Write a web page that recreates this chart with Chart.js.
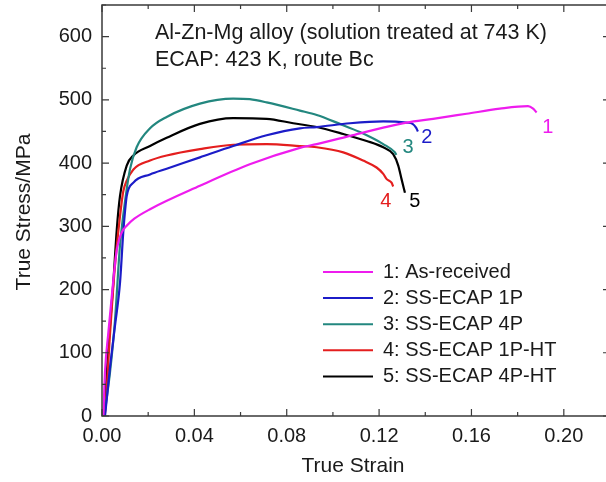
<!DOCTYPE html>
<html>
<head>
<meta charset="utf-8">
<script src="https://cdn.jsdelivr.net/npm/chart.js@4.4.1/dist/chart.umd.min.js"></script>
<style>
html,body{margin:0;padding:0;background:#fff;overflow:hidden;}
#wrap{position:absolute;left:0;top:0;width:612px;height:482px;}
</style>
</head>
<body>
<div id="wrap"><canvas id="c" width="612" height="482"></canvas></div>
<script>
// ---- data ----
const seriesLabels = ['1: As-received','2: SS-ECAP 1P','3: SS-ECAP 4P','4: SS-ECAP 1P-HT','5: SS-ECAP 4P-HT'];
const curveTags = ['1','2','3','4','5'];
const xTickValues = [0, 0.04, 0.08, 0.12, 0.16, 0.20];
const yTickValues = [0, 100, 200, 300, 400, 500, 600];

const strain1 = [0.0006,0.0013,0.0027,0.0049,0.0065,0.0085,0.0110,0.0140,0.0208,0.0424,0.0640,0.0857,0.0930,0.1074,0.1218,0.1319,0.1434,0.1579,0.1723,0.1845,0.1867,0.1882];
const stress1 = [0,70,130,215,265,290,302,312,327,364,398,424,430,443,456,464,470,478,486,490,486,480];

const strain2 = [0.0013,0.0035,0.0056,0.0078,0.0092,0.0100,0.0107,0.0136,0.0208,0.0280,0.0424,0.0568,0.0713,0.0857,0.0930,0.1074,0.1218,0.1319,0.1345,0.1360,0.1368];
const stress2 = [0,78,142,211,290,325,348,369,382,391,409,427,444,455,457,463,466,464,462,456,450];

const strain3 = [0.0010,0.0035,0.0056,0.0078,0.0100,0.0121,0.0150,0.0208,0.0280,0.0424,0.0568,0.0640,0.0713,0.0857,0.0930,0.1030,0.1117,0.1218,0.1268,0.1275];
const stress3 = [0,70,150,270,340,390,425,455,473,494,502,501,496,483,476,462,449,430,417,413];

const strain4 = [0.0010,0.0013,0.0035,0.0056,0.0078,0.0092,0.0107,0.0136,0.0208,0.0280,0.0424,0.0568,0.0713,0.0857,0.0930,0.1045,0.1131,0.1189,0.1218,0.1232,0.1254,0.1261];
const stress4 = [0,5,131,237,316,355,372,390,404,412,422,429,430,427,425,417,404,393,383,375,369,363];

const strain5 = [0.0010,0.0027,0.0049,0.0064,0.0078,0.0107,0.0136,0.0208,0.0280,0.0424,0.0568,0.0713,0.0828,0.0930,0.1045,0.1146,0.1218,0.1261,0.1283,0.1297,0.1312];
const stress5 = [0,105,211,295,348,396,412,427,440,462,471,470,463,457,446,435,425,414,396,375,353];

// ---- styling ----
const colors = ['#ee1cee','#1c1cc8','#23877f','#e41e1e','#000000'];
const tagPos = [[0.1931,457],[0.1407,441],[0.1325,424],[0.1229,339],[0.1355,339]];
const FONT = '"Liberation Sans", Arial, sans-serif';
const TXT = '#1a1a1a';

const strains = [strain1,strain2,strain3,strain4,strain5];
const stresses = [stress1,stress2,stress3,stress4,stress5];
const datasets = strains.map((s,i)=>({
  label: seriesLabels[i],
  data: s.map((x,j)=>({x:x, y:stresses[i][j]})),
  borderColor: colors[i],
  backgroundColor: colors[i],
  borderWidth: 2.2,
  pointRadius: 0,
  cubicInterpolationMode: 'monotone',
  fill: false
}));

const decor = {
  id: 'decor',
  afterDraw(chart){
    const ctx = chart.ctx, xs = chart.scales.x, ys = chart.scales.y, a = chart.chartArea;
    ctx.save();
    ctx.strokeStyle = '#3a3a3a';
    ctx.lineWidth = 1.5;
    ctx.beginPath();
    ctx.rect(a.left, a.top, a.right - a.left, a.bottom - a.top);
    ctx.stroke();
    ctx.lineWidth = 1.2;
    ctx.beginPath();
    for (let v = 0; v <= 0.2201; v += 0.02) {
      const px = xs.getPixelForValue(v);
      const major = Math.abs(Math.round(v/0.04)*0.04 - v) < 1e-6;
      const L = major ? 7 : 4;
      ctx.moveTo(px, a.bottom); ctx.lineTo(px, a.bottom - L);
      ctx.moveTo(px, a.top); ctx.lineTo(px, a.top + L);
    }
    for (let v = 0; v <= 650; v += 50) {
      const py = ys.getPixelForValue(v);
      const L = (v % 100 === 0) ? 7 : 4;
      ctx.moveTo(a.left, py); ctx.lineTo(a.left + L, py);
      ctx.moveTo(a.right, py); ctx.lineTo(a.right - L, py);
    }
    ctx.stroke();

    // annotation text
    ctx.fillStyle = TXT;
    ctx.font = '21.5px ' + FONT;
    ctx.textAlign = 'left';
    ctx.textBaseline = 'middle';
    ctx.fillText('Al-Zn-Mg alloy (solution treated at 743 K)', 155, 33);
    ctx.fillText('ECAP: 423 K, route Bc', 155, 60);

    // legend
    ctx.font = '20px ' + FONT;
    const ly0 = 272, dy = 26.1;
    datasets.forEach((d,i)=>{
      const y = ly0 + i*dy;
      ctx.strokeStyle = d.borderColor;
      ctx.lineWidth = 2;
      ctx.beginPath(); ctx.moveTo(323, y); ctx.lineTo(373, y); ctx.stroke();
      ctx.fillStyle = TXT;
      ctx.fillText(d.label, 383, y);
    });

    // curve tags
    ctx.textAlign = 'center';
    curveTags.forEach((t,i)=>{
      ctx.fillStyle = colors[i];
      ctx.fillText(t, xs.getPixelForValue(tagPos[i][0]), ys.getPixelForValue(tagPos[i][1]));
    });

    // axis titles
    ctx.fillStyle = TXT;
    ctx.font = '21px ' + FONT;
    ctx.fillText('True Strain', 353, 466);
    ctx.translate(24, 212);
    ctx.rotate(-Math.PI/2);
    ctx.fillText('True Stress/MPa', 0, 0);
    ctx.restore();
  }
};

new Chart(document.getElementById('c'), {
  type: 'line',
  data: { datasets },
  options: {
    responsive: false,
    animation: false,
    layout: { padding: { left: 0, right: 2, top: 5, bottom: 0 } },
    plugins: { legend: { display: false }, tooltip: { enabled: false } },
    scales: {
      x: {
        type: 'linear', min: 0, max: 0.22,
        grid: { display: false, drawTicks: false },
        border: { display: false },
        afterBuildTicks: s => { s.ticks = xTickValues.map(v => ({value: v})); },
        afterFit: s => { s.height = 66; s.paddingLeft = 0; s.paddingRight = 0; },
        ticks: { padding: 8, color: TXT, font: { family: FONT, size: 20 }, maxRotation: 0, autoSkip: false,
                 callback: v => Number(v).toFixed(2) }
      },
      y: {
        type: 'linear', min: 0, max: 650,
        grid: { display: false, drawTicks: false },
        border: { display: false },
        afterBuildTicks: s => { s.ticks = yTickValues.map(v => ({value: v})); },
        afterFit: s => { s.width = 102; s.paddingTop = 0; s.paddingBottom = 0; },
        ticks: { padding: 10, color: TXT, font: { family: FONT, size: 20 }, autoSkip: false }
      }
    }
  },
  plugins: [decor]
});
</script>
</body>
</html>
